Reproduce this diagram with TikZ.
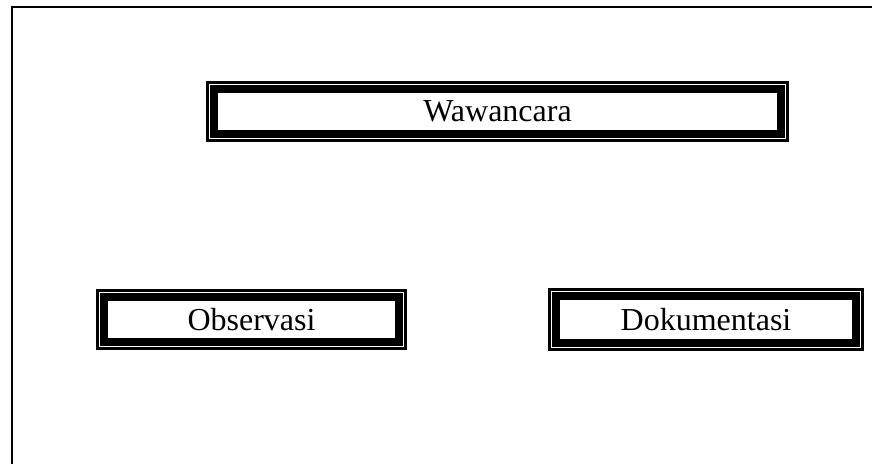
\documentclass[tikz,border=0pt]{standalone}
\usepackage{fontspec}
\setmainfont{Liberation Serif}
\tikzset{
  boxnode/.style={rectangle, draw=none, inner sep=0pt, minimum height=61pt,
    font=\fontsize{32}{38}\selectfont, text height=21pt, text depth=0pt},
  outerline/.style={line width=3.2pt, black},
  innerline/.style={line width=8pt, black},
  frameline/.style={line width=2pt, black}
}
\newcommand{\dblframe}[1]{%
  \draw[outerline] ([shift={(1.6pt,-1.6pt)}]#1.north west) rectangle ([shift={(-1.6pt,1.6pt)}]#1.south east);
  \draw[innerline] ([shift={(8.6pt,-8.6pt)}]#1.north west) rectangle ([shift={(-8.6pt,8.6pt)}]#1.south east);
}
\begin{document}
\begin{tikzpicture}[x=1pt,y=1pt]
  \useasboundingbox (0,0) rectangle (872,464);
  \fill[white] (0,0) rectangle (872,464);
  \draw[frameline] (11.5,0) -- (11.5,457) -- (872,457);
  \node[boxnode, minimum width=583pt] (w) at (497.5,352.5) {Wawancara};
  \node[boxnode, minimum width=311pt] (o) at (251.5,144.5) {Observasi};
  \node[boxnode, minimum width=316pt, minimum height=63pt] (d) at (706,144.5) {Dokumentasi};
  \dblframe{w}
  \dblframe{o}
  \dblframe{d}
\end{tikzpicture}
\end{document}
